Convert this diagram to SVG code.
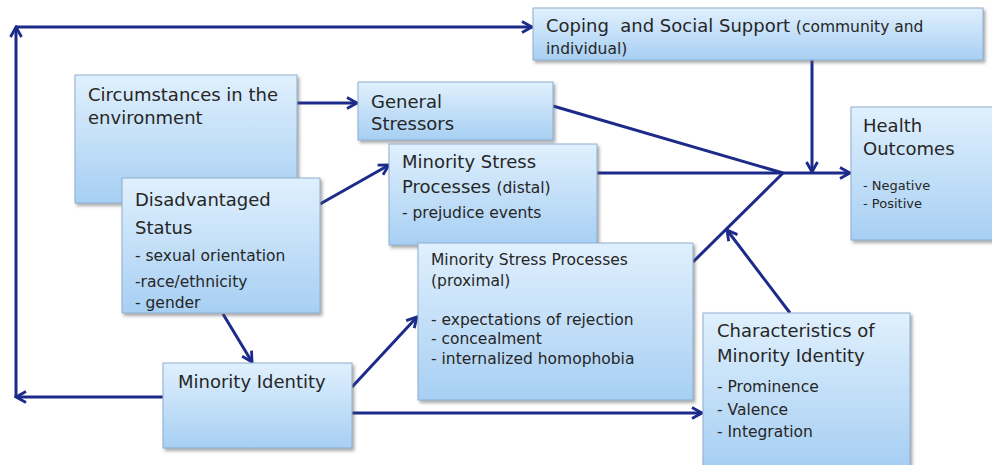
<svg xmlns="http://www.w3.org/2000/svg" width="992" height="465" viewBox="0 0 992 465">
<defs>
<linearGradient id="g" x1="0" y1="0" x2="0" y2="1">
<stop offset="0" stop-color="#e0f0fd"/>
<stop offset="1" stop-color="#a7cff3"/>
</linearGradient>
<filter id="sh" x="-5%" y="-5%" width="115%" height="125%">
<feDropShadow dx="2" dy="2.5" stdDeviation="1.5" flood-color="#555" flood-opacity="0.5"/>
</filter>
<marker id="ah" viewBox="0 0 14 14" refX="12" refY="7" markerWidth="14" markerHeight="14" markerUnits="userSpaceOnUse" orient="auto">
<path d="M2,1.5 L12,7 L2,12.5" fill="none" stroke="#1c2a8a" stroke-width="2.8" stroke-linejoin="miter"/>
</marker>
<style>
.box{fill:url(#g);stroke:#8eaed0;stroke-width:1;filter:url(#sh)}
text{font-family:"DejaVu Sans","Liberation Sans",sans-serif;fill:#262626}
.pre{white-space:pre}
.t{font-size:18px}
.s{font-size:15.5px}
.x{font-size:13px}
.c line{stroke:#1c2a8a;stroke-width:3;fill:none}
.a{marker-end:url(#ah)}
</style>
</defs>
<g class="c" id="connectors">
<line class="a" x1="163" y1="397" x2="16" y2="397"/>
<line class="a" x1="16" y1="397" x2="16" y2="27"/>
<line class="a" x1="16" y1="27" x2="532" y2="27"/>
<line class="a" x1="297" y1="103" x2="357" y2="103"/>
<line x1="553" y1="106" x2="783" y2="173"/>
<line class="a" x1="597" y1="173" x2="850" y2="173"/>
<line class="a" x1="812" y1="60" x2="812" y2="172"/>
<line x1="693" y1="262" x2="783" y2="173"/>
<line class="a" x1="790" y1="313" x2="727" y2="230"/>
<line class="a" x1="320" y1="204" x2="389" y2="165"/>
<line class="a" x1="223" y1="314" x2="252" y2="362"/>
<line class="a" x1="352" y1="387" x2="417" y2="317"/>
<line class="a" x1="352" y1="413" x2="702" y2="413"/>
</g>
<g id="circumstances">
<rect class="box" x="75" y="75" width="222" height="128"/>
<text class="t" x="88" y="101">Circumstances in the</text>
<text class="t" x="88" y="124">environment</text>
</g>
<g id="general">
<rect class="box" x="358" y="82" width="195" height="58"/>
<text class="t" x="371" y="108">General</text>
<text class="t" x="371" y="130">Stressors</text>
</g>
<g id="coping">
<rect class="box" x="533" y="8" width="450" height="52"/>
<text class="pre" x="546" y="32" xml:space="preserve"><tspan class="t">Coping  and Social Support </tspan><tspan class="s">(community and</tspan></text>
<text class="s" x="546" y="54">individual)</text>
</g>
<g id="distal">
<rect class="box" x="389" y="144" width="208" height="101"/>
<text class="t" x="402" y="168">Minority Stress</text>
<text x="402" y="193"><tspan class="t">Processes </tspan><tspan class="s">(distal)</tspan></text>
<text class="s" x="402" y="218">- prejudice events</text>
</g>
<g id="proximal">
<rect class="box" x="418" y="243" width="275" height="157"/>
<text class="s" x="431" y="265">Minority Stress Processes</text>
<text class="s" x="431" y="286">(proximal)</text>
<text class="s" x="431" y="325">- expectations of rejection</text>
<text class="s" x="431" y="344">- concealment</text>
<text class="s" x="431" y="364">- internalized homophobia</text>
</g>
<g id="disadvantaged">
<rect class="box" x="122" y="178" width="198" height="135"/>
<text class="t" x="135" y="206">Disadvantaged</text>
<text class="t" x="135" y="234">Status</text>
<text class="s" x="135" y="261">- sexual orientation</text>
<text class="s" x="135" y="287">-race/ethnicity</text>
<text class="s" x="135" y="308">- gender</text>
</g>
<g id="minority-identity">
<rect class="box" x="163" y="363" width="189" height="85"/>
<text class="t" x="178" y="388">Minority Identity</text>
</g>
<g id="characteristics">
<rect class="box" x="703" y="313" width="207" height="154"/>
<text class="t" x="717" y="337">Characteristics of</text>
<text class="t" x="717" y="362">Minority Identity</text>
<text class="s" x="717" y="392">- Prominence</text>
<text class="s" x="717" y="415">- Valence</text>
<text class="s" x="717" y="437">- Integration</text>
</g>
<g id="health">
<rect class="box" x="851" y="107" width="145" height="133"/>
<text class="t" x="863" y="132">Health</text>
<text class="t" x="863" y="155">Outcomes</text>
<text class="x" x="863" y="190">- Negative</text>
<text class="x" x="863" y="208">- Positive</text>
</g>
</svg>
